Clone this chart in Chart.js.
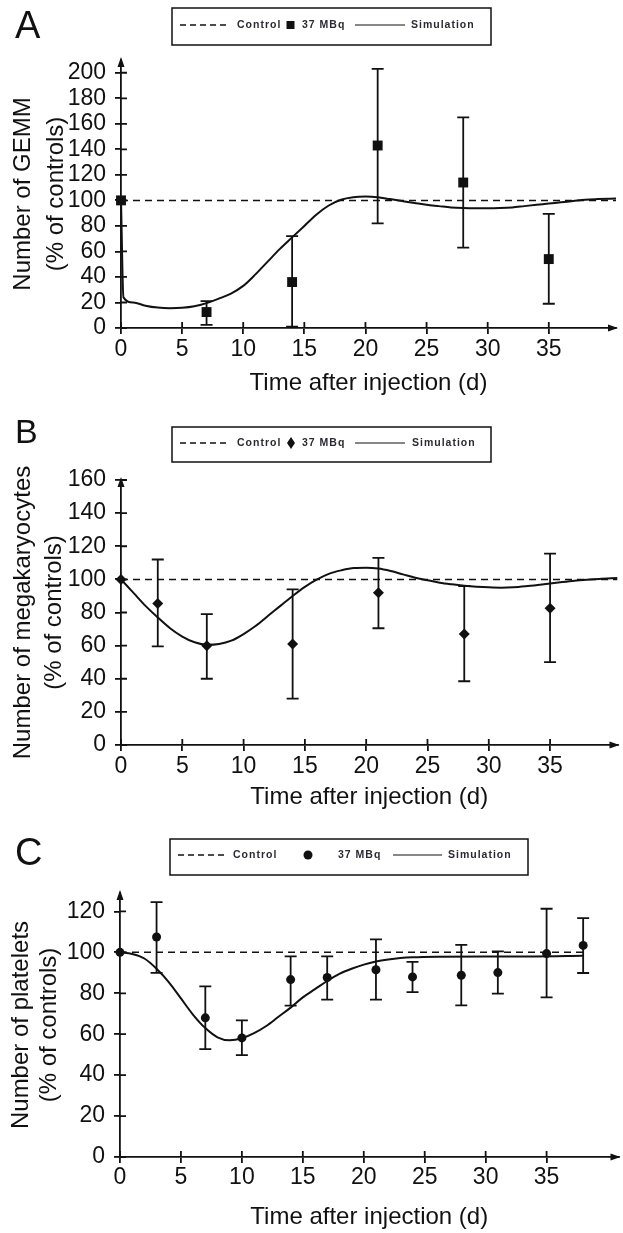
<!DOCTYPE html>
<html>
<head>
<meta charset="utf-8">
<script src="https://cdn.jsdelivr.net/npm/chart.js@4.4.1/dist/chart.umd.min.js"></script>
<style>
  html, body { margin: 0; padding: 0; background: #fff; }
  #wrap { position: relative; width: 623px; height: 1233px; }
  .panel { position: absolute; left: 0; width: 623px; }
</style>
</head>
<body>
<div id="wrap">
  <div class="panel" style="top:0;height:405px"><canvas id="chartA"></canvas></div>
  <div class="panel" style="top:405px;height:410px"><canvas id="chartB"></canvas></div>
  <div class="panel" style="top:815px;height:418px"><canvas id="chartC"></canvas></div>
</div>
<script>
const FONT = '"Liberation Sans", Arial, sans-serif';
const INK = "#111";

// tick labels
const xTicks = [0, 5, 10, 15, 20, 25, 30, 35];
const yTicksA = [0, 20, 40, 60, 80, 100, 120, 140, 160, 180, 200];
const yTicksB = [0, 20, 40, 60, 80, 100, 120, 140, 160];
const yTicksC = [0, 20, 40, 60, 80, 100, 120];

const controlLevel = 100;

// A - GEMM
const gemmDays = [0, 7, 14, 21, 28, 35];
const gemmMean = [100, 12.5, 36, 143, 114, 54];
const gemmLow = [null, 2.5, 1, 82, 63, 19];
const gemmHigh = [null, 21, 72, 203, 165, 89.5];
const gemmSimT = [0, 0.2, 1, 2, 3, 4, 5, 6, 7, 8, 9, 10, 11, 12, 13, 14, 15, 16, 17, 18, 19, 20, 21, 22, 23, 24, 25, 26, 27, 28, 29, 30, 31, 32, 33, 34, 35, 36, 37, 38, 39, 40.5];
const gemmSimY = [100, 24, 20, 17.5, 16, 15.5, 15.8, 17, 19.5, 23, 27, 33, 42, 52, 62, 71, 80, 89, 96, 100.5, 102.5, 103, 102.5, 101, 99.5, 98, 96.5, 95.5, 94.5, 94, 93.8, 93.8, 94, 94.5, 95.5, 96.5, 97.5, 98.5, 99.5, 100.5, 101, 101.5];

// B - megakaryocytes
const megaDays = [0, 3, 7, 14, 21, 28, 35];
const megaMean = [100, 85.5, 60, 61, 92, 67, 82.5];
const megaLow = [null, 59.5, 40, 28, 70.5, 38.5, 50];
const megaHigh = [null, 112, 79, 94, 113, 96, 115.5];
const megaSimT = [0, 1, 2, 3, 4, 5, 6, 7, 8, 9, 10, 11, 12, 13, 14, 15, 16, 17, 18, 19, 20, 21, 22, 23, 24, 25, 26, 27, 28, 29, 30, 31, 32, 33, 34, 35, 36, 37, 38, 39, 40.5];
const megaSimY = [100, 92, 84, 77, 70.5, 65.5, 62, 60.5, 61, 63, 67, 72, 78, 84, 90, 95.5, 100, 103.5, 105.5, 106.8, 107, 106.5, 105, 103, 101, 99.5, 98, 97, 96.2, 95.6, 95.2, 95, 95.2, 95.8, 96.6, 97.5, 98.4, 99.2, 99.8, 100.3, 100.8];

// C - platelets
const pltDays = [0, 3, 7, 10, 14, 17, 21, 24, 28, 31, 35, 38];
const pltMean = [100, 107.5, 68, 58.2, 86.7, 87.7, 91.5, 88, 88.8, 90.1, 99.4, 103.4];
const pltLow = [null, 90, 52.7, 49.8, 74, 76.9, 76.9, 80.6, 74.1, 79.8, 78, 89.9];
const pltHigh = [null, 124.5, 83.4, 66.8, 98, 98, 106.3, 95.3, 103.7, 100.5, 121.3, 116.7];
const pltSimT = [0, 1, 2, 3, 4, 5, 6, 7, 8, 9, 10, 11, 12, 13, 14, 15, 16, 17, 18, 19, 20, 21, 22, 23, 24, 26, 30, 34, 38];
const pltSimY = [100, 99.2, 97, 92, 85.5, 77.5, 69.5, 63, 58.5, 57, 58, 60.5, 64, 68.5, 73, 78, 82, 86, 89.5, 92, 94, 95.5, 96.5, 97.2, 97.6, 97.9, 98, 98, 98.3];

// draws error bars, inner tick halves, axis arrows, boxed legend and panel letter
function decorPlugin(p) {
  return {
    id: "decor",
    afterDatasetsDraw(chart) {
      const { ctx, scales: { x, y } } = chart;
      ctx.save();
      ctx.strokeStyle = INK;
      ctx.lineWidth = 1.8;
      p.days.forEach((d, i) => {
        if (p.low[i] == null) return;
        const px = x.getPixelForValue(d);
        const y1 = y.getPixelForValue(p.low[i]);
        const y2 = y.getPixelForValue(p.high[i]);
        ctx.beginPath();
        ctx.moveTo(px, y1); ctx.lineTo(px, y2);
        ctx.moveTo(px - 6, y1); ctx.lineTo(px + 6, y1);
        ctx.moveTo(px - 6, y2); ctx.lineTo(px + 6, y2);
        ctx.stroke();
      });
      ctx.restore();
    },
    afterDraw(chart) {
      const { ctx, chartArea: area, scales: { x, y } } = chart;
      ctx.save();
      ctx.strokeStyle = INK;
      ctx.fillStyle = INK;
      ctx.lineWidth = 1.8;

      // inner halves of the crossing ticks
      ctx.beginPath();
      xTicks.forEach(v => {
        const px = x.getPixelForValue(v);
        ctx.moveTo(px, area.bottom); ctx.lineTo(px, area.bottom - 6);
      });
      p.yTicks.forEach(v => {
        const py = y.getPixelForValue(v);
        ctx.moveTo(area.left, py); ctx.lineTo(area.left + 6, py);
      });
      ctx.stroke();

      // arrows
      ctx.beginPath();
      ctx.moveTo(area.left, area.top - 3);
      ctx.lineTo(area.left - 3.5, area.top + 7);
      ctx.lineTo(area.left + 3.5, area.top + 7);
      ctx.closePath();
      ctx.fill();
      ctx.beginPath();
      ctx.moveTo(area.right + 2, area.bottom);
      ctx.lineTo(area.right - 8, area.bottom - 3.5);
      ctx.lineTo(area.right - 8, area.bottom + 3.5);
      ctx.closePath();
      ctx.fill();

      // legend box
      const L = p.legend;
      ctx.lineWidth = 1.5;
      ctx.strokeRect(L.box[0], L.box[1], L.box[2] - L.box[0], L.box[3] - L.box[1]);
      ctx.lineWidth = 1.4;
      ctx.setLineDash([6, 4]);
      ctx.beginPath();
      ctx.moveTo(L.dash[0], L.y); ctx.lineTo(L.dash[1], L.y);
      ctx.stroke();
      ctx.setLineDash([]);
      ctx.lineWidth = 1.2;
      ctx.beginPath();
      ctx.moveTo(L.line[0], L.y); ctx.lineTo(L.line[1], L.y);
      ctx.stroke();
      ctx.beginPath();
      if (p.marker === "rect") {
        ctx.rect(L.mark - 4, L.y - 4, 8, 8);
      } else if (p.marker === "rectRot") {
        ctx.moveTo(L.mark, L.y - 6); ctx.lineTo(L.mark + 4, L.y);
        ctx.lineTo(L.mark, L.y + 6); ctx.lineTo(L.mark - 4, L.y);
        ctx.closePath();
      } else {
        ctx.arc(L.mark, L.y, 4.5, 0, Math.PI * 2);
      }
      ctx.fill();

      ctx.fillStyle = "#2a2a33";
      ctx.font = "bold 10.5px " + FONT;
      ctx.letterSpacing = "1px";
      ctx.textBaseline = "middle";
      ctx.textAlign = "left";
      ctx.fillText("Control", L.control, L.y);
      ctx.fillText("37 MBq", L.mbq, L.y);
      ctx.fillText("Simulation", L.sim, L.y);

      // panel letter
      ctx.letterSpacing = "0px";
      ctx.fillStyle = INK;
      ctx.textBaseline = "alphabetic";
      ctx.font = p.letterSize + "px " + FONT;
      ctx.fillText(p.letter, 15, p.letterY);
      ctx.restore();
    }
  };
}

function makePanel(id, p) {
  const scatter = p.days.map((d, i) => ({ x: d, y: p.mean[i] }));
  const sim = p.simT.map((t, i) => ({ x: t, y: p.simY[i] }));
  return new Chart(document.getElementById(id), {
    type: "scatter",
    data: {
      datasets: [
        {
          label: "37 MBq",
          data: scatter,
          pointStyle: p.marker,
          pointRadius: p.markerSize,
          backgroundColor: INK,
          borderColor: INK,
          borderWidth: 0,
          clip: false,
          order: 0,
        },
        {
          label: "Simulation",
          type: "line",
          data: sim,
          borderColor: INK,
          borderWidth: 2,
          pointRadius: 0,
          tension: 0.4,
          cubicInterpolationMode: "monotone",
          order: 1,
        },
        {
          label: "Control",
          type: "line",
          data: [{ x: 0, y: controlLevel }, { x: p.controlEnd, y: controlLevel }],
          borderColor: INK,
          borderWidth: 1.5,
          borderDash: [7, 5],
          pointRadius: 0,
          order: 2,
        },
      ],
    },
    options: {
      responsive: true,
      maintainAspectRatio: false,
      animation: false,
      events: [],
      layout: { padding: { left: 0, right: 2, top: p.top, bottom: 0 } },
      plugins: { legend: { display: false }, tooltip: { enabled: false } },
      scales: {
        x: {
          type: "linear",
          min: 0,
          max: p.xMax,
          afterBuildTicks: (s) => { s.ticks = xTicks.map(v => ({ value: v })); },
          afterFit: (s) => { s.height = p.xAxisHeight; },
          ticks: { color: INK, font: { family: FONT, size: 23 }, padding: p.xTickPad, maxRotation: 0, autoSkip: false },
          grid: { drawOnChartArea: false, color: INK, lineWidth: 1.8, tickLength: 6 },
          border: { color: INK, width: 1.8 },
          title: {
            display: true,
            text: "Time after injection (d)",
            color: INK,
            font: { family: FONT, size: 24 },
            padding: { top: 0, bottom: p.xTitlePad },
          },
        },
        y: {
          min: 0,
          max: p.yMax,
          afterBuildTicks: (s) => { s.ticks = p.yTicks.map(v => ({ value: v })); },
          afterFit: (s) => { s.width = p.yAxisWidth; },
          ticks: { color: INK, font: { family: FONT, size: 23 }, padding: 9, autoSkip: false },
          grid: { drawOnChartArea: false, color: INK, lineWidth: 1.8, tickLength: 6 },
          border: { color: INK, width: 1.8 },
          title: {
            display: true,
            text: p.yTitle,
            color: INK,
            font: { family: FONT, size: 24, lineHeight: p.yTitleLH + "px" },
            padding: { top: p.yTitlePad, bottom: 0 },
          },
        },
      },
    },
    plugins: [decorPlugin(p)],
  });
}

makePanel("chartA", {
  days: gemmDays, mean: gemmMean, low: gemmLow, high: gemmHigh,
  simT: gemmSimT, simY: gemmSimY,
  yTicks: yTicksA, yMax: 210, xMax: 40.5, controlEnd: 40.5,
  marker: "rect", markerSize: 7,
  top: 60, xAxisHeight: 77, xTickPad: 2, xTitlePad: 7.6, yAxisWidth: 121,
  yTitle: ["Number of GEMM", "(% of controls)"], yTitleLH: 33, yTitlePad: 6.5,
  letter: "A", letterSize: 38, letterY: 38,
  legend: { box: [172, 8, 491, 45], y: 25, dash: [180, 230], control: 237, mark: 290.5, mbq: 302, line: [355, 405], sim: 411 },
});

makePanel("chartB", {
  days: megaDays, mean: megaMean, low: megaLow, high: megaHigh,
  simT: megaSimT, simY: megaSimY,
  yTicks: yTicksB, yMax: 160, xMax: 40.5, controlEnd: 40.5,
  marker: "rectRot", markerSize: 5.5,
  top: 75, xAxisHeight: 70, xTickPad: 2, xTitlePad: 3.6, yAxisWidth: 121,
  yTitle: ["Number of megakaryocytes", "(% of controls)"], yTitleLH: 31, yTitlePad: 7.5,
  letter: "B", letterSize: 34, letterY: 38,
  legend: { box: [172, 22, 491, 57], y: 38, dash: [180, 228], control: 237, mark: 291, mbq: 302, line: [355, 405], sim: 412 },
});

makePanel("chartC", {
  days: pltDays, mean: pltMean, low: pltLow, high: pltHigh,
  simT: pltSimT, simY: pltSimY,
  yTicks: yTicksC, yMax: 129, xMax: 40.9, controlEnd: 38.4,
  marker: "circle", markerSize: 4.5,
  top: 78, xAxisHeight: 76, xTickPad: 1, xTitlePad: 1.6, yAxisWidth: 120,
  yTitle: ["Number of platelets", "(% of controls)"], yTitleLH: 28, yTitlePad: 7,
  letter: "C", letterSize: 38, letterY: 50,
  legend: { box: [170, 24, 528, 60], y: 40, dash: [178, 227], control: 233, mark: 308, mbq: 338, line: [393, 442], sim: 448 },
});
</script>
</body>
</html>
